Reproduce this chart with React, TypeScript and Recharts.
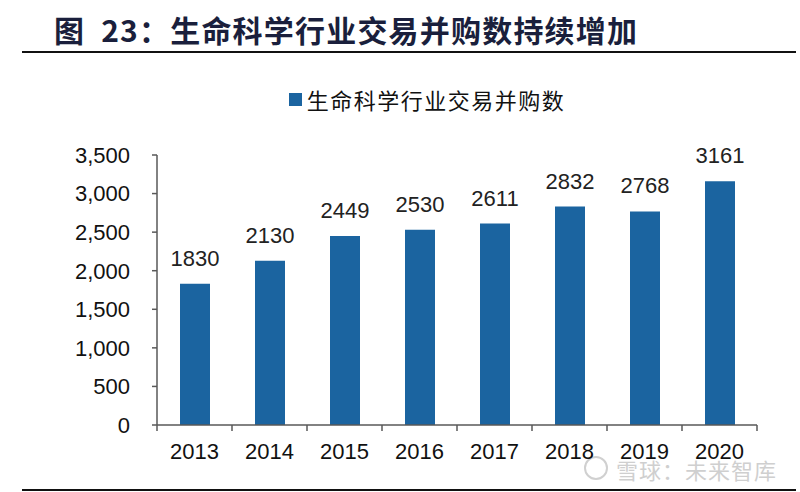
import React from 'react';
import { BarChart, Bar, XAxis, YAxis, LabelList, Legend } from 'recharts';

const years = ['2013', '2014', '2015', '2016', '2017', '2018', '2019', '2020'];
const deals = [1830, 2130, 2449, 2530, 2611, 2832, 2768, 3161];
const yTicks = [0, 500, 1000, 1500, 2000, 2500, 3000, 3500];
const seriesName = '生命科学行业交易并购数';
const titleText = '图  23：生命科学行业交易并购数持续增加';
const watermark = '雪球：未来智库';

const data = years.map((y, i) => ({ year: y, value: deals[i] }));

const W = 800;
const H = 492;
const LEGEND_H = 30;
const M = { top: 155 - LEGEND_H, right: 43, bottom: 37, left: 0 };
const Y_W = 157;
const BAND = (W - M.right - Y_W) / years.length;
const FONT = "'Liberation Sans', Arial, sans-serif";

const XTick = (props: any) => {
  const { x, y, payload, index } = props;
  const lx = x - BAND / 2;
  return (
    <g>
      <line x1={lx} y1={y - 8} x2={lx} y2={y - 2} stroke="#595959" strokeWidth={1.5} />
      {index === years.length - 1 && (
        <line x1={x + BAND / 2} y1={y - 8} x2={x + BAND / 2} y2={y - 2} stroke="#595959" strokeWidth={1.5} />
      )}
      <text x={x} y={y + 26} textAnchor="middle" fontSize={22} fill="#111" fontFamily={FONT}>
        {payload.value}
      </text>
    </g>
  );
};

const LegendContent = () => (
  <div style={{ display: 'flex', justifyContent: 'center', alignItems: 'center', height: LEGEND_H, fontFamily: "'Noto Sans CJK SC', sans-serif", fontSize: 22, letterSpacing: 1.5, color: '#111', paddingLeft: 54 }}>
    <span style={{ display: 'inline-block', width: 13, height: 13, background: '#1B64A0', marginRight: 5 }} />
    <span>{seriesName}</span>
  </div>
);

export default function App() {
  return (
    <div style={{ position: 'fixed', left: 0, top: 0, width: W, height: H, background: '#fff', overflow: 'hidden' }}>
      <div style={{ position: 'absolute', left: 54, top: 9, fontFamily: "'Noto Sans CJK SC', sans-serif", fontWeight: 700, fontSize: 30, lineHeight: '40px', color: '#1a1f3c', letterSpacing: 1.2, whiteSpace: 'pre' }}>
        {titleText}
      </div>
      <div style={{ position: 'absolute', left: 22, top: 51, width: 774, height: 2, background: '#111' }} />
      <div style={{ position: 'absolute', left: 22, top: 489, width: 774, height: 2, background: '#111' }} />
      <div style={{ position: 'absolute', left: 584, top: 456, width: 24, height: 24, borderRadius: 12, border: '2px solid #d0d0d0', boxSizing: 'border-box' }} />
      <div style={{ position: 'absolute', left: 616, top: 453, fontFamily: "'Noto Sans CJK SC', sans-serif", fontSize: 22, lineHeight: '32px', letterSpacing: 1, color: '#cfcfcf' }}>
        {watermark}
      </div>
      <div style={{ position: 'absolute', left: 0, top: 0 }}>
        <BarChart width={W} height={H} data={data} margin={M}>
          <Legend verticalAlign="top" height={LEGEND_H} content={<LegendContent />} wrapperStyle={{ top: 84, left: 0, width: W }} />
          <XAxis
            dataKey="year"
            height={30}
            axisLine={{ stroke: '#595959', strokeWidth: 1.5 }}
            tickLine={false}
            interval={0}
            tick={<XTick />}
          />
          <YAxis
            width={Y_W}
            domain={[0, 3500]}
            ticks={yTicks}
            interval={0}
            axisLine={{ stroke: '#595959', strokeWidth: 1.5 }}
            tickLine={{ stroke: '#595959', strokeWidth: 1.5 }}
            tickSize={5}
            tickMargin={22}
            tickFormatter={(v: number) => v.toLocaleString('en-US')}
            tick={{ fontSize: 22, fill: '#111', fontFamily: FONT }}
          />
          <Bar dataKey="value" name={seriesName} fill="#1B64A0" barSize={30} isAnimationActive={false}>
            <LabelList dataKey="value" position="top" offset={18} fontSize={22} fill="#222" fontFamily={FONT} />
          </Bar>
        </BarChart>
      </div>
    </div>
  );
}
